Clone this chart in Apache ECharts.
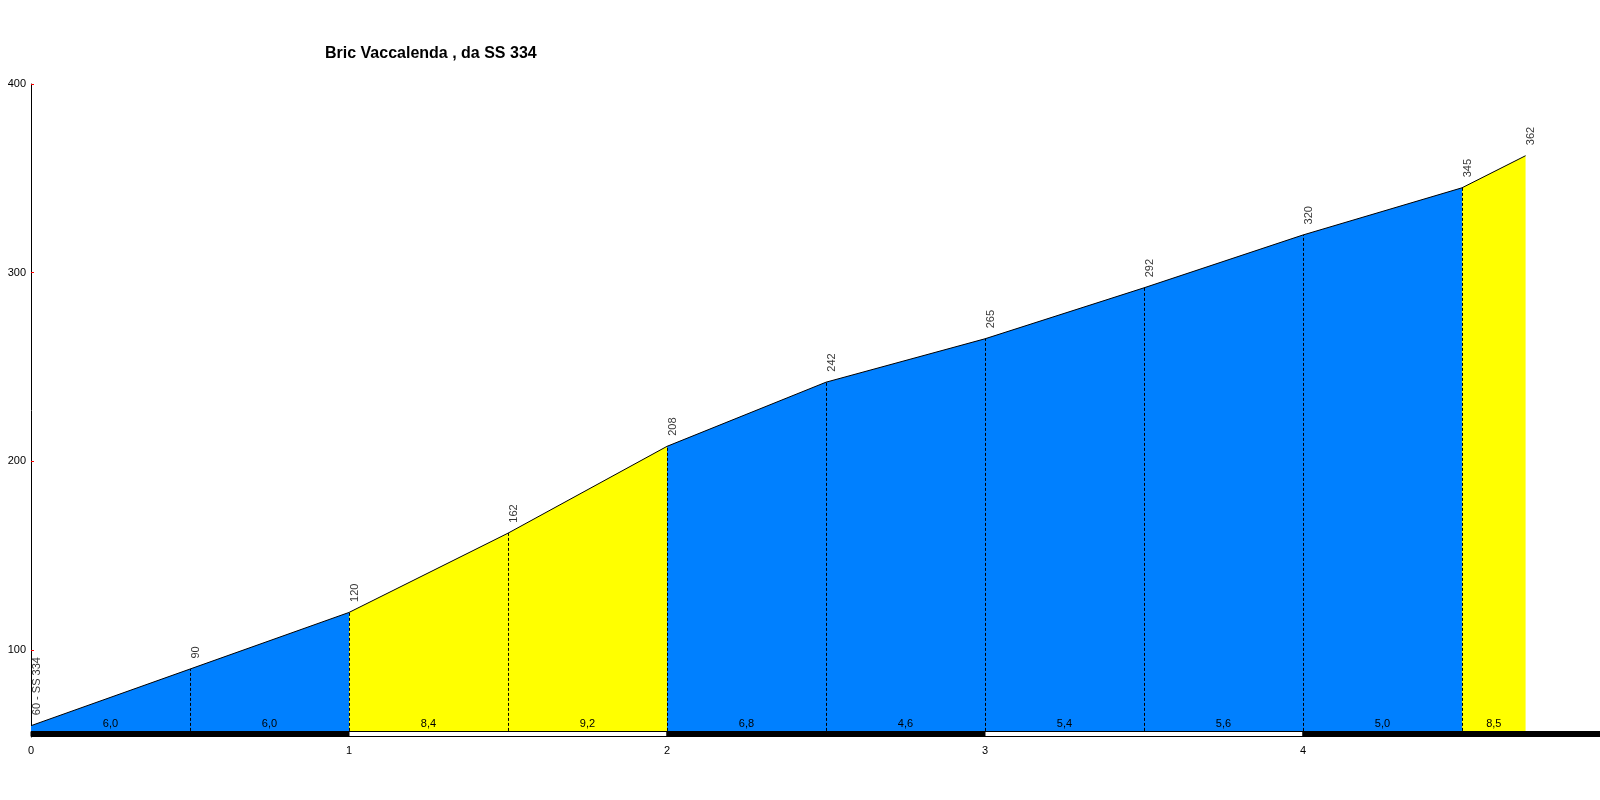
<!DOCTYPE html>
<html><head><meta charset="utf-8">
<script src="https://cdn.jsdelivr.net/npm/echarts@6/dist/echarts.min.js"></script>
<style>html,body{margin:0;padding:0;background:#fff}#c{width:1600px;height:800px}</style>
</head><body><div id="c"></div>
<script>
const titleText = 'Bric Vaccalenda , da SS 334';
const distances = [0, 0.5, 1, 1.5, 2, 2.5, 3, 3.5, 4, 4.5, 4.7];
const elevations = [60, 90, 120, 162, 208, 242, 265, 292, 320, 345, 362];
const pointLabels = ['60 - SS 334', '90', '120', '162', '208', '242', '265', '292', '320', '345', '362'];
const grades = ['6,0', '6,0', '8,4', '9,2', '6,8', '4,6', '5,4', '5,6', '5,0', '8,5'];
const xTickValues = [0, 1, 2, 3, 4];
const yTickValues = [100, 200, 300, 400];

const Y_MIN = 54, Y_MAX = 400, BASE = 57.24, X_MAX = 4.934;
const BLUE = '#0080FF', YELLOW = '#FFFF00';
const FONT = 'Liberation Sans, Arial, sans-serif';

const segData = grades.map((g, i) => [distances[i], distances[i + 1], elevations[i], elevations[i + 1], parseFloat(g.replace(',', '.'))]);
const dashData = distances.slice(1, -1).map((d, i) => [d, elevations[i + 1]]);
const bandEdges = [0, 1, 2, 3, 4, X_MAX];
const bandData = bandEdges.slice(0, -1).map((v, i) => [v, bandEdges[i + 1], i % 2]);
const lineData = distances.map((d, i) => [d, elevations[i]]);

const chart = echarts.init(document.getElementById('c'), null, {renderer: 'canvas'});
chart.setOption({
  animation: false,
  backgroundColor: '#fff',
  title: {
    text: titleText, left: 320, top: 41,
    textStyle: {fontFamily: FONT, fontWeight: 'bold', fontSize: 16, color: '#000'}
  },
  grid: {left: 31, right: 0, top: 84, bottom: 63, containLabel: false},
  xAxis: {
    type: 'value', min: 0, max: X_MAX,
    axisLine: {show: false}, axisTick: {show: false}, splitLine: {show: false},
    axisLabel: {customValues: xTickValues, color: '#000', fontFamily: FONT, fontSize: 11, margin: 8}
  },
  yAxis: {
    type: 'value', min: Y_MIN, max: Y_MAX,
    axisLine: {show: true, lineStyle: {color: '#000', width: 1}},
    axisTick: {show: true, inside: true, length: 3, customValues: yTickValues, lineStyle: {color: '#ff0000'}},
    splitLine: {show: false},
    axisLabel: {customValues: yTickValues, color: '#000', fontFamily: FONT, fontSize: 11, margin: 5}
  },
  series: [
    {
      type: 'custom', name: 'segments', z: 1, silent: true,
      data: segData,
      renderItem: (params, api) => {
        const i = params.dataIndex;
        const x0 = api.value(0), x1 = api.value(1), e0 = api.value(2), e1 = api.value(3), g = api.value(4);
        const pA = api.coord([x0, BASE]), pB = api.coord([x0, e0]), pC = api.coord([x1, e1]), pD = api.coord([x1, BASE]);
        return {
          type: 'group',
          children: [{
            type: 'polygon', shape: {points: [pA, pB, pC, pD]},
            style: {fill: g > 8 ? YELLOW : BLUE, stroke: null}
          }, {
            type: 'text',
            style: {
              text: grades[i], x: (pA[0] + pD[0]) / 2, y: pA[1] - 1,
              align: 'center', verticalAlign: 'bottom',
              font: '11px ' + FONT, fill: '#000'
            }
          }]
        };
      }
    },
    {
      type: 'custom', name: 'dividers', z: 2, silent: true,
      data: dashData,
      renderItem: (params, api) => {
        const pTop = api.coord([api.value(0), api.value(1)]);
        const pBot = api.coord([api.value(0), BASE]);
        const xx = Math.round(pTop[0]) + 0.5;
        return {
          type: 'line', shape: {x1: xx, y1: pBot[1], x2: xx, y2: pTop[1]},
          style: {stroke: '#000', lineWidth: 1, lineDash: [3, 2], fill: null}
        };
      }
    },
    {
      type: 'line', name: 'profile', z: 3, silent: true,
      data: lineData, symbol: 'none',
      lineStyle: {color: '#000', width: 1}
    },
    {
      type: 'scatter', name: 'labels', z: 4, silent: true,
      data: lineData, symbolSize: 1,
      itemStyle: {color: 'rgba(0,0,0,0)'},
      label: {
        show: true, position: 'top', distance: 10, rotate: 90,
        align: 'left', verticalAlign: 'top',
        fontFamily: FONT, fontSize: 11, color: '#000',
        formatter: p => pointLabels[p.dataIndex]
      }
    },
    {
      type: 'custom', name: 'band', z: 5, silent: true,
      data: bandData,
      renderItem: (params, api) => {
        const p0 = api.coord([api.value(0), BASE]);
        const p1 = api.coord([api.value(1), Y_MIN]);
        const white = api.value(2) === 1;
        return {
          type: 'rect',
          shape: {x: p0[0], y: Math.round(p0[1]) + 0.5, width: p1[0] - p0[0], height: Math.round(p1[1] - p0[1]) - 1},
          style: white ? {fill: '#fff', stroke: '#000', lineWidth: 1} : {fill: '#000', stroke: '#000', lineWidth: 1}
        };
      }
    }
  ]
});
</script>
</body></html>
